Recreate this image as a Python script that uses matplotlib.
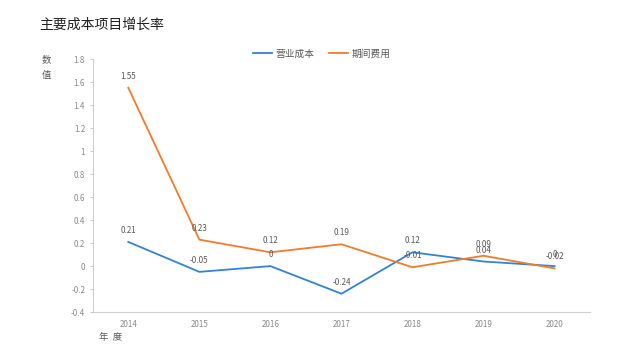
import matplotlib
matplotlib.use("Agg")
import matplotlib.pyplot as plt

plt.rcParams['font.family'] = ['Noto Sans CJK SC', 'DejaVu Sans']

years = ['2014', '2015', '2016', '2017', '2018', '2019', '2020']
cost = [0.21, -0.05, 0, -0.24, 0.12, 0.04, 0]
expense = [1.55, 0.23, 0.12, 0.19, -0.01, 0.09, -0.02]
cost_labels = ['0.21', '-0.05', '0', '-0.24', '0.12', '0.04', '0']
expense_labels = ['1.55', '0.23', '0.12', '0.19', '-0.01', '0.09', '-0.02']
yticks = [-0.4, -0.2, 0, 0.2, 0.4, 0.6, 0.8, 1, 1.2, 1.4, 1.6, 1.8]
ytick_labels = ['-0.4', '-0.2', '0', '0.2', '0.4', '0.6', '0.8', '1', '1.2', '1.4', '1.6', '1.8']

blue = '#2f84d6'
orange = '#f47b28'
gray_text = '#595959'

fig = plt.figure(figsize=(6.4, 3.6), dpi=100)
ax = fig.add_axes([0.145, 0.133, 0.777, 0.703])

x = list(range(len(years)))
ax.plot(x, cost, color=blue, lw=1.3, label='营业成本')
ax.plot(x, expense, color=orange, lw=1.3, label='期间费用')

for xi, v, t in zip(x, cost, cost_labels):
    ax.annotate(t, (xi, v), xytext=(0, 5), textcoords='offset points',
                ha='center', va='bottom', fontsize=5.8, color=gray_text)
for xi, v, t in zip(x, expense, expense_labels):
    ax.annotate(t, (xi, v), xytext=(0, 5), textcoords='offset points',
                ha='center', va='bottom', fontsize=5.8, color=gray_text)

ax.set_xlim(-0.5, len(years) - 0.5)
ax.set_ylim(-0.4, 1.8)
ax.set_yticks(yticks)
ax.set_yticklabels(ytick_labels)
ax.set_xticks(x)
ax.set_xticklabels(years)
ax.tick_params(axis='both', labelsize=5.8, colors='#bfbfbf', labelcolor='#8a8a8a', length=2, width=0.6)
ax.tick_params(axis='x', length=0, pad=6)
for s in ['top', 'right']:
    ax.spines[s].set_visible(False)
for s in ['left', 'bottom']:
    ax.spines[s].set_color('#d0d0d0')
    ax.spines[s].set_linewidth(0.8)

leg = ax.legend(loc='upper center', bbox_to_anchor=(0.46, 1.075), ncol=2, frameon=False,
                fontsize=7, handlelength=2.0, handletextpad=0.3, columnspacing=1.5)
for t in leg.get_texts():
    t.set_color(gray_text)

fig.text(0.062, 0.93, '主要成本项目增长率', fontsize=10, color='#222222', ha='left', va='center')
fig.text(0.073, 0.835, '数', fontsize=6.8, color=gray_text, ha='center', va='center')
fig.text(0.073, 0.79, '值', fontsize=6.8, color=gray_text, ha='center', va='center')
fig.text(0.155, 0.063, '年  度', fontsize=6.8, color=gray_text, ha='left', va='center')

fig.savefig('out.png', dpi=100)
